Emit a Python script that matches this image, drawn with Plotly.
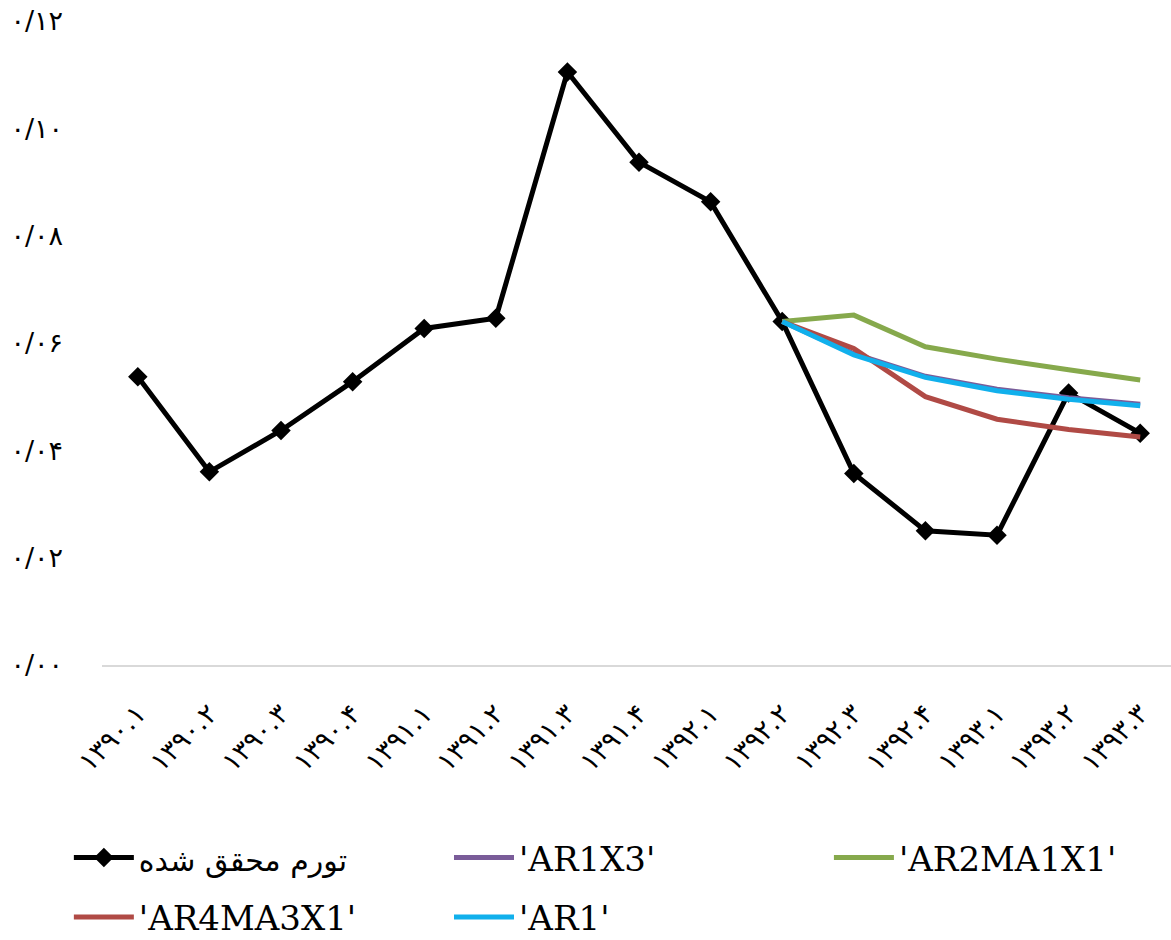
import plotly.graph_objects as go

# Quarter labels (Persian calendar, Persian digits)
quarters = ["۱۳۹۰.۱", "۱۳۹۰.۲", "۱۳۹۰.۳", "۱۳۹۰.۴",
            "۱۳۹۱.۱", "۱۳۹۱.۲", "۱۳۹۱.۳", "۱۳۹۱.۴",
            "۱۳۹۲.۱", "۱۳۹۲.۲", "۱۳۹۲.۳", "۱۳۹۲.۴",
            "۱۳۹۳.۱", "۱۳۹۳.۲", "۱۳۹۳.۳"]

# Realised inflation
actual = [0.0537, 0.0360, 0.0437, 0.0528, 0.0627, 0.0646, 0.1105, 0.0937,
          0.0863, 0.0640, 0.0357, 0.0250, 0.0242, 0.0507, 0.0432]

# Model forecasts, starting from 1392.2
forecast_quarters = quarters[9:]
ar1x3 = [0.0640, 0.0580, 0.0538, 0.0514, 0.0498, 0.0486]
ar2ma1x1 = [0.0640, 0.0652, 0.0593, 0.0570, 0.0550, 0.0531]
ar4ma3x1 = [0.0640, 0.0590, 0.0500, 0.0458, 0.0439, 0.0425]
ar1 = [0.0640, 0.0578, 0.0536, 0.0511, 0.0495, 0.0483]

y_tick_vals = [0.00, 0.02, 0.04, 0.06, 0.08, 0.10, 0.12]
y_tick_text = ["۰/۰۰", "۰/۰۲", "۰/۰۴", "۰/۰۶", "۰/۰۸", "۰/۱۰", "۰/۱۲"]

actual_name = '<span style="font-family:DejaVu Sans;font-size:30px">تورم محقق شده</span>'

fig = go.Figure()
fig.add_trace(go.Scatter(
    x=quarters, y=actual, name=actual_name, mode="lines+markers",
    line=dict(color="#000000", width=5),
    marker=dict(symbol="diamond", size=15, color="#000000"),
    legend="legend"))
fig.add_trace(go.Scatter(
    x=forecast_quarters, y=ar1x3, name="'AR1X3'", mode="lines",
    line=dict(color="#7a5c99", width=5), legend="legend2"))
fig.add_trace(go.Scatter(
    x=forecast_quarters, y=ar2ma1x1, name="'AR2MA1X1'", mode="lines",
    line=dict(color="#86a94c", width=5), legend="legend3"))
fig.add_trace(go.Scatter(
    x=forecast_quarters, y=ar4ma3x1, name="'AR4MA3X1'", mode="lines",
    line=dict(color="#b04a45", width=5), legend="legend4"))
fig.add_trace(go.Scatter(
    x=forecast_quarters, y=ar1, name="'AR1'", mode="lines",
    line=dict(color="#11b0ec", width=5), legend="legend5"))

legend_common = dict(
    orientation="h", xanchor="left", yanchor="middle", itemwidth=60,
    font=dict(family="DejaVu Serif", size=34),
    bgcolor="rgba(0,0,0,0)")

# Legend grid: three columns, two rows below the plot
col_x = [-0.031, 0.3246, 0.680]
row_y = [-0.2997, -0.392]

fig.update_layout(
    width=1171, height=940,
    margin=dict(l=102, r=0, t=21, b=275, autoexpand=False),
    plot_bgcolor="white", paper_bgcolor="white",
    font=dict(family="DejaVu Sans, Noto Sans", color="#000000", size=22),
    showlegend=True,
    legend=dict(x=col_x[0], y=row_y[0], **legend_common),
    legend2=dict(x=col_x[1], y=row_y[0], **legend_common),
    legend3=dict(x=col_x[2], y=row_y[0], **legend_common),
    legend4=dict(x=col_x[0], y=row_y[1], **legend_common),
    legend5=dict(x=col_x[1], y=row_y[1], **legend_common),
)
fig.update_xaxes(
    type="category", range=[-0.5, 14.43],
    showline=True, linecolor="#d9d9d9", linewidth=2,
    showgrid=False, ticks="", tickangle=-45,
    tickfont=dict(size=27), ticklabelstandoff=20)
fig.update_yaxes(
    range=[0, 0.12], tickvals=y_tick_vals, ticktext=y_tick_text,
    showline=False, showgrid=False, zeroline=False, ticks="",
    tickfont=dict(size=27), ticklabelstandoff=38)

fig.write_html("out.html")
